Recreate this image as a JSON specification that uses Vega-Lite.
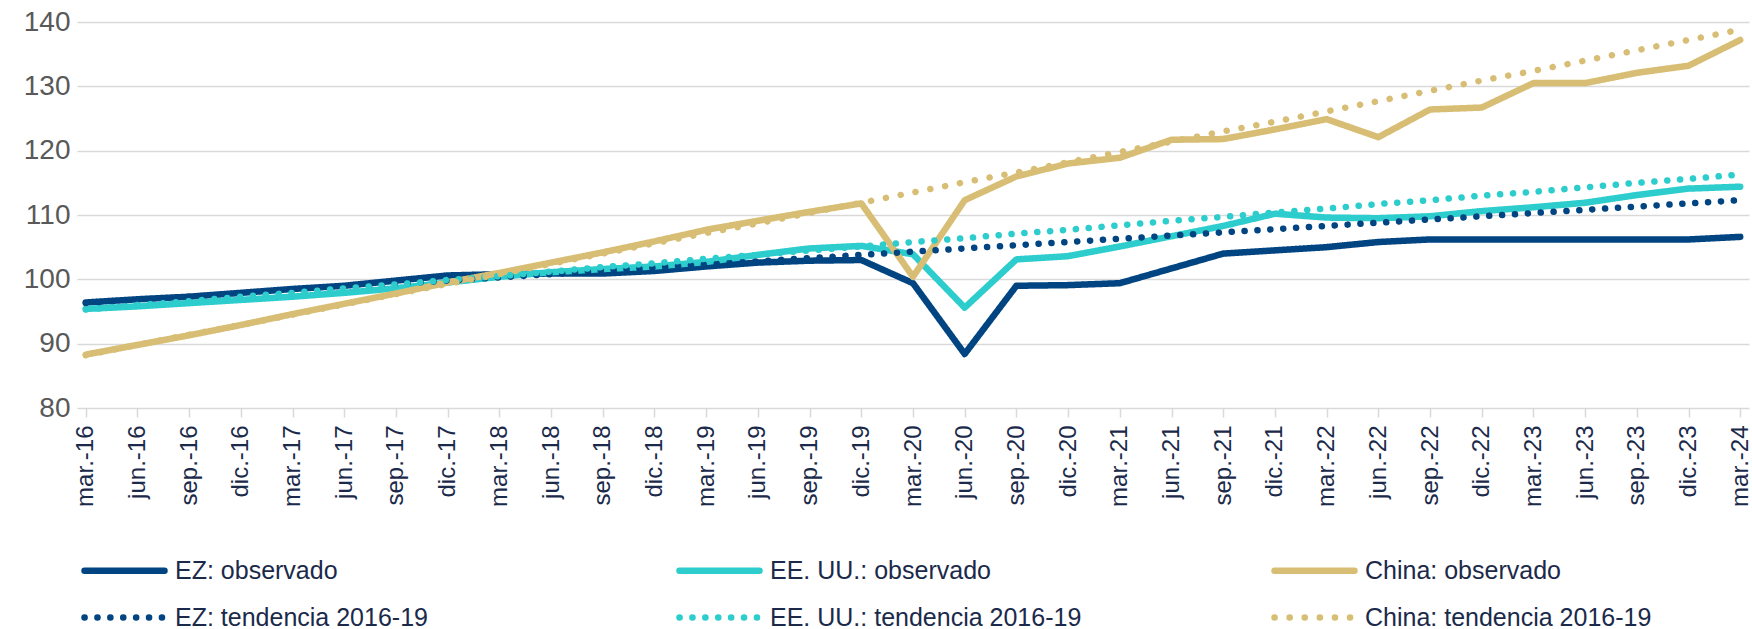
{
  "$schema": "https://vega.github.io/schema/vega-lite/v6.json",
  "width": 1672,
  "height": 386,
  "autosize": {"type": "none"},
  "padding": {"left": 77, "top": 22, "right": 3, "bottom": 221},
  "background": "white",
  "config": {"view": {"stroke": null}, "font": "Liberation Sans"},
  "data": {"values": [
    {"t":"mar.-16","EZ_obs":96.4,"US_obs":95.4,"CN_obs":88.3,"EZ_tr":96.3,"US_tr":95.3,"CN_tr":88.2},
    {"t":"jun.-16","EZ_obs":96.9,"US_obs":95.8,"CN_obs":89.8,"EZ_tr":96.8,"US_tr":96.0,"CN_tr":89.8},
    {"t":"sep.-16","EZ_obs":97.3,"US_obs":96.3,"CN_obs":91.3,"EZ_tr":97.3,"US_tr":96.6,"CN_tr":91.4},
    {"t":"dic.-16","EZ_obs":97.9,"US_obs":96.8,"CN_obs":92.9,"EZ_tr":97.8,"US_tr":97.3,"CN_tr":92.9},
    {"t":"mar.-17","EZ_obs":98.5,"US_obs":97.3,"CN_obs":94.6,"EZ_tr":98.3,"US_tr":97.9,"CN_tr":94.5},
    {"t":"jun.-17","EZ_obs":99.0,"US_obs":97.9,"CN_obs":96.2,"EZ_tr":98.8,"US_tr":98.6,"CN_tr":96.1},
    {"t":"sep.-17","EZ_obs":99.8,"US_obs":98.6,"CN_obs":97.8,"EZ_tr":99.3,"US_tr":99.2,"CN_tr":97.7},
    {"t":"dic.-17","EZ_obs":100.6,"US_obs":99.5,"CN_obs":99.5,"EZ_tr":99.8,"US_tr":99.9,"CN_tr":99.3},
    {"t":"mar.-18","EZ_obs":100.8,"US_obs":100.4,"CN_obs":101.0,"EZ_tr":100.3,"US_tr":100.5,"CN_tr":100.8},
    {"t":"jun.-18","EZ_obs":100.9,"US_obs":101.1,"CN_obs":102.6,"EZ_tr":100.8,"US_tr":101.2,"CN_tr":102.4},
    {"t":"sep.-18","EZ_obs":100.9,"US_obs":101.6,"CN_obs":104.2,"EZ_tr":101.3,"US_tr":101.9,"CN_tr":104.0},
    {"t":"dic.-18","EZ_obs":101.3,"US_obs":102.0,"CN_obs":105.9,"EZ_tr":101.8,"US_tr":102.5,"CN_tr":105.6},
    {"t":"mar.-19","EZ_obs":102.0,"US_obs":102.7,"CN_obs":107.7,"EZ_tr":102.3,"US_tr":103.2,"CN_tr":107.2},
    {"t":"jun.-19","EZ_obs":102.6,"US_obs":103.8,"CN_obs":109.1,"EZ_tr":102.8,"US_tr":103.8,"CN_tr":108.7},
    {"t":"sep.-19","EZ_obs":102.9,"US_obs":104.8,"CN_obs":110.5,"EZ_tr":103.3,"US_tr":104.5,"CN_tr":110.3},
    {"t":"dic.-19","EZ_obs":103.0,"US_obs":105.2,"CN_obs":111.8,"EZ_tr":103.8,"US_tr":105.1,"CN_tr":111.9},
    {"t":"mar.-20","EZ_obs":99.4,"US_obs":103.9,"CN_obs":100.4,"EZ_tr":104.3,"US_tr":105.8,"CN_tr":113.5},
    {"t":"jun.-20","EZ_obs":88.4,"US_obs":95.6,"CN_obs":112.3,"EZ_tr":104.8,"US_tr":106.4,"CN_tr":115.1},
    {"t":"sep.-20","EZ_obs":99.0,"US_obs":103.1,"CN_obs":116.0,"EZ_tr":105.3,"US_tr":107.1,"CN_tr":116.6},
    {"t":"dic.-20","EZ_obs":99.1,"US_obs":103.6,"CN_obs":118.0,"EZ_tr":105.8,"US_tr":107.7,"CN_tr":118.2},
    {"t":"mar.-21","EZ_obs":99.4,"US_obs":105.1,"CN_obs":118.9,"EZ_tr":106.3,"US_tr":108.4,"CN_tr":119.8},
    {"t":"jun.-21","EZ_obs":101.7,"US_obs":106.7,"CN_obs":121.7,"EZ_tr":106.8,"US_tr":109.1,"CN_tr":121.4},
    {"t":"sep.-21","EZ_obs":104.0,"US_obs":108.3,"CN_obs":121.8,"EZ_tr":107.3,"US_tr":109.7,"CN_tr":123.0},
    {"t":"dic.-21","EZ_obs":104.5,"US_obs":110.2,"CN_obs":123.3,"EZ_tr":107.8,"US_tr":110.4,"CN_tr":124.5},
    {"t":"mar.-22","EZ_obs":105.0,"US_obs":109.6,"CN_obs":124.9,"EZ_tr":108.3,"US_tr":111.0,"CN_tr":126.1},
    {"t":"jun.-22","EZ_obs":105.8,"US_obs":109.5,"CN_obs":122.1,"EZ_tr":108.8,"US_tr":111.7,"CN_tr":127.7},
    {"t":"sep.-22","EZ_obs":106.2,"US_obs":109.8,"CN_obs":126.4,"EZ_tr":109.3,"US_tr":112.3,"CN_tr":129.3},
    {"t":"dic.-22","EZ_obs":106.2,"US_obs":110.6,"CN_obs":126.7,"EZ_tr":109.8,"US_tr":113.0,"CN_tr":130.9},
    {"t":"mar.-23","EZ_obs":106.2,"US_obs":111.2,"CN_obs":130.5,"EZ_tr":110.3,"US_tr":113.6,"CN_tr":132.4},
    {"t":"jun.-23","EZ_obs":106.2,"US_obs":111.9,"CN_obs":130.5,"EZ_tr":110.8,"US_tr":114.3,"CN_tr":134.0},
    {"t":"sep.-23","EZ_obs":106.2,"US_obs":113.1,"CN_obs":132.1,"EZ_tr":111.3,"US_tr":115.0,"CN_tr":135.6},
    {"t":"dic.-23","EZ_obs":106.2,"US_obs":114.1,"CN_obs":133.2,"EZ_tr":111.8,"US_tr":115.6,"CN_tr":137.2},
    {"t":"mar.-24","EZ_obs":106.6,"US_obs":114.4,"CN_obs":137.2,"EZ_tr":112.3,"US_tr":116.3,"CN_tr":138.8}
  ]},
  "transform": [
    {"fold": ["EZ_obs", "US_obs", "CN_obs", "EZ_tr", "US_tr", "CN_tr"], "as": ["serie", "v"]}
  ],
  "mark": {"type": "line", "strokeCap": "round", "strokeJoin": "round"},
  "encoding": {
    "x": {
      "field": "t", "type": "ordinal", "sort": null,
      "scale": {"type": "point", "padding": 0.17},
      "axis": {
        "title": null, "labelAngle": 270, "labelAlign": "right", "labelBaseline": "middle",
        "labelFontSize": 24, "labelColor": "#1B2A4A", "labelPadding": 8,
        "domain": false, "ticks": true, "tickSize": 9, "tickColor": "#D9D9D9", "tickWidth": 1.5,
        "grid": false
      }
    },
    "y": {
      "field": "v", "type": "quantitative",
      "scale": {"domain": [80, 140], "nice": false, "zero": false},
      "axis": {
        "title": null, "values": [80, 90, 100, 110, 120, 130, 140],
        "labelFontSize": 28, "labelColor": "#595959", "labelPadding": 7,
        "domain": false, "ticks": false, "grid": true, "gridColor": "#D9D9D9", "gridWidth": 1.5
      }
    },
    "color": {
      "field": "serie", "type": "nominal",
      "scale": {
        "domain": ["EZ_obs", "US_obs", "CN_obs", "EZ_tr", "US_tr", "CN_tr"],
        "range": ["#004481", "#2DCCCD", "#D8BE75", "#004481", "#2DCCCD", "#D8BE75"]
      },
      "legend": {
        "title": null, "orient": "none", "legendX": 4, "legendY": 535,
        "direction": "horizontal", "columns": 3, "gridAlign": "all",
        "columnPadding": 179, "rowPadding": 20,
        "symbolType": "M-4,0H4", "symbolSize": 400, "symbolStrokeWidth": 6.5, "symbolOffset": 30,
        "labelFontSize": 25, "labelColor": "#1B2A4A", "labelOffset": 37, "labelLimit": 500,
        "labelExpr": "{'EZ_obs':'EZ: observado','US_obs':'EE. UU.: observado','CN_obs':'China: observado','EZ_tr':'EZ: tendencia 2016-19','US_tr':'EE. UU.: tendencia 2016-19','CN_tr':'China: tendencia 2016-19'}[datum.value]",
        "encode": {"symbols": {"update": {"strokeCap": {"value": "round"}}}}
      }
    },
    "strokeDash": {
      "field": "serie", "type": "nominal",
      "scale": {
        "domain": ["EZ_obs", "US_obs", "CN_obs", "EZ_tr", "US_tr", "CN_tr"],
        "range": [[1, 0], [1, 0], [1, 0], [0.1, 12.8], [0.1, 12.8], [0.1, 15]]
      },
      "legend": null
    },
    "strokeWidth": {
      "field": "serie", "type": "nominal",
      "scale": {
        "domain": ["EZ_obs", "US_obs", "CN_obs", "EZ_tr", "US_tr", "CN_tr"],
        "range": [6.5, 6.5, 6.5, 7, 7, 7.5]
      },
      "legend": null
    }
  }
}
